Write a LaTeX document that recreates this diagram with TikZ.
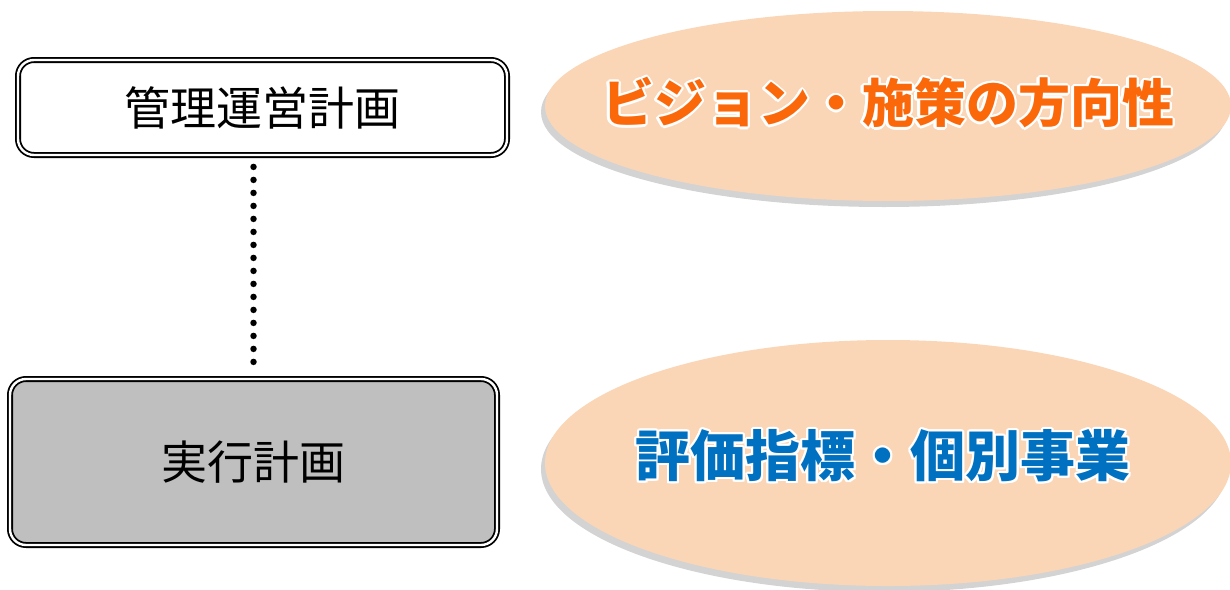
\documentclass[tikz,border=0pt]{standalone}
\usepackage{fontspec}
\setmainfont{Noto Sans CJK JP}
\usepackage[copies]{contour}
\usetikzlibrary{shapes.geometric,shadows}

\definecolor{peach}{RGB}{250,214,182}
\definecolor{boxgray}{RGB}{191,191,191}
\definecolor{visionorange}{RGB}{250,104,10}
\definecolor{indexblue}{RGB}{0,112,192}
\contourlength{2.2pt}

\tikzset{
  planbox/.style={draw, double=white, line width=1.8pt, double distance=2.4pt,
    rounded corners=16pt, inner sep=0pt, font=\fontsize{46}{50}\selectfont},
  focus/.style={ellipse, fill=peach, inner sep=0pt,
    drop shadow={shadow xshift=-4pt, shadow yshift=-6pt, opacity=.35}},
  headline/.style={inner sep=0pt, font=\fontsize{52}{56}\selectfont\bfseries},
  dotline/.style={line width=6.5pt, line cap=round, dash pattern=on 0pt off 13pt,
    shorten <=11pt, shorten >=11pt}
}

\begin{document}
\begin{tikzpicture}[x=1pt,y=1pt]
  \useasboundingbox (0,0) rectangle (1230,-589);
  % plans on the left
  \node[planbox, fill=white, minimum width=489pt, minimum height=95pt] (plan) at (262.5,-107.5) {管理運営計画};
  \node[planbox, fill=boxgray, minimum width=487pt, minimum height=166pt] (exec) at (253.5,-462) {実行計画};
  \draw[dotline] (exec.north |- plan.south) -- (exec.north);
  % what each plan holds
  \node[focus, minimum width=686pt, minimum height=190pt] (vision) at (888,-106) {};
  \node[focus, minimum width=686pt, minimum height=246pt] (index) at (888,-463) {};
  \node[headline, text=visionorange] (visiontext) at ([yshift=2pt]vision.center)
    {\contour{white}{ビジョン・施策の方向性}};
  \node[headline, text=indexblue, font=\fontsize{55}{58}\selectfont\bfseries] (indextext)
    at ([xshift=-5pt,yshift=6pt]index.center) {\contour{white}{評価指標・個別事業}};
\end{tikzpicture}
\end{document}
